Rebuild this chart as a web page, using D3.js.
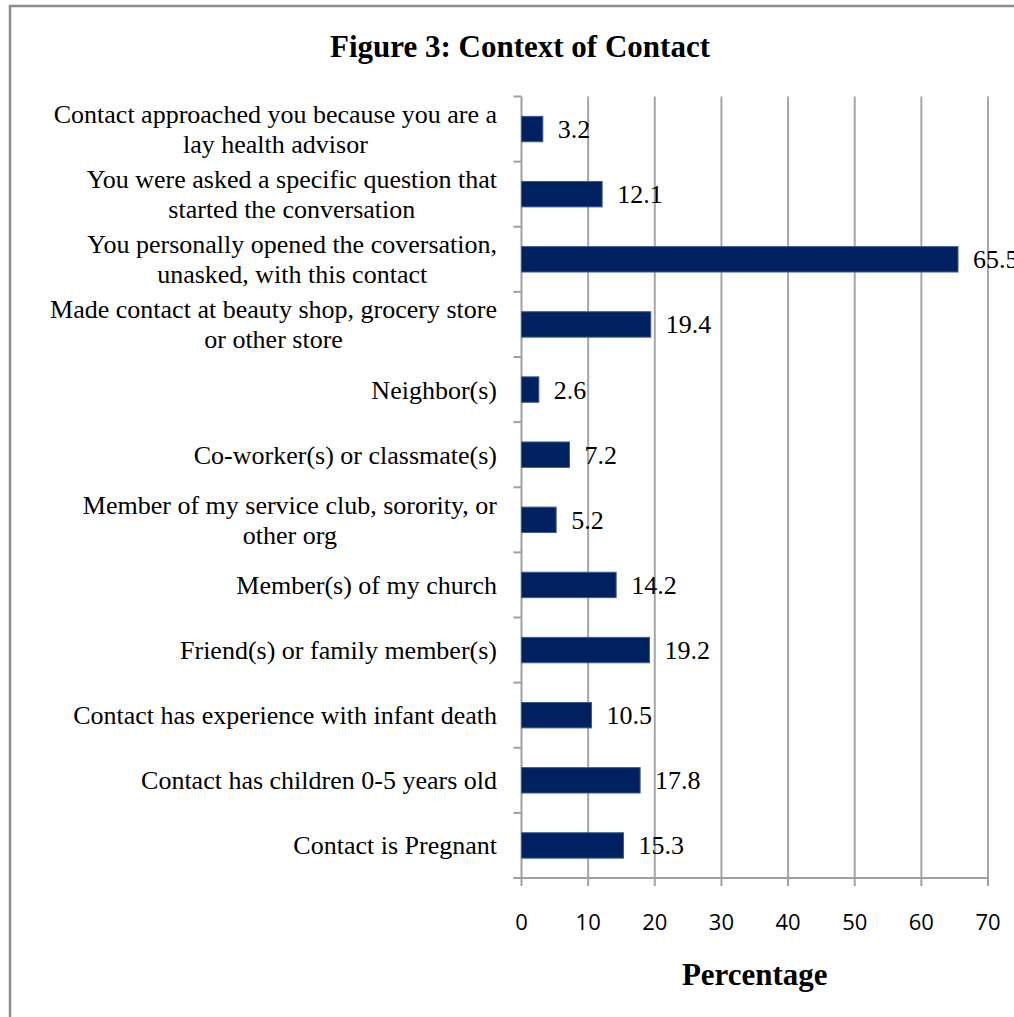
<!DOCTYPE html>
<html lang="en">
<head>
    <meta charset="UTF-8">
    <title>Figure 3: Context of Contact</title>
    <script src="https://cdnjs.cloudflare.com/ajax/libs/d3/7.8.5/d3.min.js"></script>
    <style>
        body { margin: 0; background: #fff; }
        .cat text { font: 26px "Liberation Serif", "Times New Roman", serif; fill: #000; }
        .val { font: 26px "Liberation Serif", "Times New Roman", serif; fill: #000; }
        .tick-x { font: 22px "Open Sans", sans-serif; fill: #000; }
        .title { font: bold 31px "Liberation Serif", "Times New Roman", serif; }
    </style>
</head>
<body>
    <div id="chart"></div>

    <script>
        // category labels, top to bottom (lines split as in the original)
        var categories = [
            ["Contact approached you because you are a", "lay health advisor"],
            ["You were asked a specific question that", "started the conversation"],
            ["You personally opened the coversation,", "unasked, with this contact"],
            ["Made contact at beauty shop, grocery store", "or other store"],
            ["Neighbor(s)"],
            ["Co-worker(s) or classmate(s)"],
            ["Member of my service club, sorority, or", "other org"],
            ["Member(s) of my church"],
            ["Friend(s) or family member(s)"],
            ["Contact has experience with infant death"],
            ["Contact has children 0-5 years old"],
            ["Contact is Pregnant"]
        ];
        var values = [3.2, 12.1, 65.5, 19.4, 2.6, 7.2, 5.2, 14.2, 19.2, 10.5, 17.8, 15.3];
        var xTicks = [0, 10, 20, 30, 40, 50, 60, 70];

        var W = 1014, H = 1017;
        var plotL = 521.5, plotR = 988, plotT = 96.5, plotB = 878;

        var svg = d3.select("#chart").append("svg")
            .attr("width", W)
            .attr("height", H);

        // chart border (cut off at right/bottom like the picture)
        svg.append("rect")
            .attr("x", 10).attr("y", 6)
            .attr("width", W + 20).attr("height", H + 20)
            .attr("fill", "#fff")
            .attr("stroke", "#8c8c8c")
            .attr("stroke-width", 2.5);

        var x = d3.scaleLinear().domain([0, 70]).range([plotL, plotR]);
        var idx = d3.range(categories.length);
        var y = d3.scaleBand().domain(idx).range([plotT, plotB]).paddingInner(0.61).paddingOuter(0.305);
        var yb = d3.scaleBand().domain(idx).range([plotT, plotB]);

        // gridlines
        svg.append("g").selectAll("line")
            .data(xTicks.slice(1))
            .join("line")
            .attr("x1", d => x(d)).attr("x2", d => x(d))
            .attr("y1", plotT).attr("y2", plotB)
            .attr("stroke", "#a6a6a6")
            .attr("stroke-width", 2);

        // y axis: line + outward ticks at band edges
        var yEdges = d3.range(categories.length + 1).map(i => plotT + i * yb.step());
        svg.append("line")
            .attr("x1", plotL).attr("x2", plotL)
            .attr("y1", plotT).attr("y2", plotB)
            .attr("stroke", "#a0a0a0").attr("stroke-width", 2);
        svg.append("g").selectAll("line")
            .data(yEdges)
            .join("line")
            .attr("x1", plotL - 8).attr("x2", plotL)
            .attr("y1", d => d).attr("y2", d => d)
            .attr("stroke", "#a0a0a0").attr("stroke-width", 2);

        // x axis
        svg.append("line")
            .attr("x1", plotL - 8).attr("x2", plotR)
            .attr("y1", plotB).attr("y2", plotB)
            .attr("stroke", "#a0a0a0").attr("stroke-width", 2);
        svg.append("g").selectAll("line")
            .data(xTicks)
            .join("line")
            .attr("x1", d => x(d)).attr("x2", d => x(d))
            .attr("y1", plotB).attr("y2", plotB + 8)
            .attr("stroke", "#a0a0a0").attr("stroke-width", 2);
        svg.append("g").selectAll("text")
            .data(xTicks)
            .join("text")
            .attr("class", "tick-x")
            .attr("x", d => x(d))
            .attr("y", 930)
            .attr("text-anchor", "middle")
            .text(d => d);

        // bars
        svg.append("g").selectAll("rect")
            .data(values)
            .join("rect")
            .attr("x", x(0))
            .attr("y", (d, i) => y(i))
            .attr("width", d => x(d) - x(0))
            .attr("height", y.bandwidth())
            .attr("fill", "#002060")
            .attr("stroke", "#3b5a96")
            .attr("stroke-width", 1);

        // value labels
        svg.append("g").selectAll("text")
            .data(values)
            .join("text")
            .attr("class", "val")
            .attr("x", d => x(d) + 15)
            .attr("y", (d, i) => yb(i) + yb.bandwidth() / 2 + 9)
            .text(d => d.toFixed(1));

        // category labels: wrapped block centered, block right-aligned
        var labelRight = 497;
        var cat = svg.append("g").attr("class", "cat");
        categories.forEach(function(lines, i) {
            var cy = yb(i) + yb.bandwidth() / 2;
            var g = cat.append("g");
            var texts = lines.map(function(s, j) {
                return g.append("text")
                    .attr("y", cy + 9 + (j - (lines.length - 1) / 2) * 30)
                    .attr("text-anchor", "middle")
                    .text(s);
            });
            var maxW = d3.max(texts, t => t.node().getComputedTextLength());
            texts.forEach(t => t.attr("x", labelRight - maxW / 2));
        });

        // title and axis title
        svg.append("text")
            .attr("class", "title")
            .attr("x", 520).attr("y", 57)
            .attr("text-anchor", "middle")
            .text("Figure 3: Context of Contact");

        svg.append("text")
            .attr("class", "title")
            .attr("x", (plotL + plotR) / 2).attr("y", 985)
            .attr("text-anchor", "middle")
            .text("Percentage");
    </script>
</body>
</html>
